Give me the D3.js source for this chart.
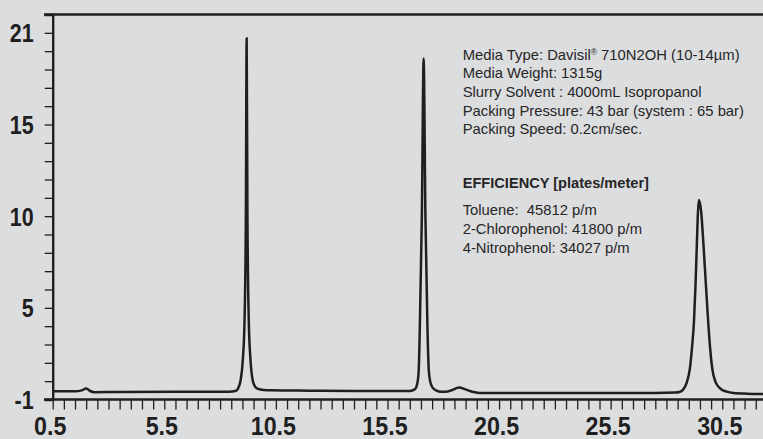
<!DOCTYPE html>
<html><head><meta charset="utf-8">
<script src="https://cdn.jsdelivr.net/npm/d3@7"></script>
<style>
html,body{margin:0;padding:0;background:#dcdddf;}
svg{display:block;}
</style></head>
<body>
<svg id="c" width="763" height="439"></svg>
<script>
// retention time (min) and detector signal
const times = [0.5,1.5,1.8,2.0,2.2,2.35,3.5,6.0,8.40,8.72,8.84,8.92,9.02,9.095,9.155,9.19,9.225,9.285,9.36,9.46,9.56,9.70,9.95,10.30,12.0,14.0,
  16.00,16.50,16.72,16.84,16.90,16.95,17.04,17.12,17.20,17.29,17.35,17.42,17.52,17.70,17.90,18.10,18.40,18.70,19.00,19.30,19.60,22.0,25.0,27.5,
  28.40,28.58,28.75,28.90,29.05,29.15,29.23,29.30,29.36,29.41,29.45,29.55,29.65,29.75,29.85,29.95,30.05,30.20,30.45,30.70,31.00,31.60,32.50];
const signal = [0.45,0.45,0.50,0.60,0.45,0.40,0.41,0.42,0.42,0.48,0.70,1.05,2.2,4.3,10.0,19.7,10.0,4.3,2.2,1.05,0.72,0.58,0.52,0.50,0.48,0.46,
  0.46,0.47,0.55,0.90,1.6,4.0,10.0,18.6,10.0,4.0,1.6,0.95,0.65,0.48,0.42,0.42,0.52,0.66,0.55,0.42,0.36,0.36,0.36,0.36,
  0.38,0.41,0.55,0.89,1.7,2.9,4.2,6.2,8.4,10.2,10.88,10.3,8.6,6.6,4.6,2.9,1.7,0.95,0.56,0.43,0.36,0.32,0.30];

const xTickValues = d3.range(0.5, 32.01, 0.5);
const xLabelValues = [0.5,5.5,10.5,15.5,20.5,25.5,30.5];
const yTickValues = d3.range(0, 22, 1);
const yLabelValues = [0,5,10,15,20];
const yLabelTexts = ["-1","5","10","15","21"];

const infoLines = ["Media Type: Davisil|® 710N2OH (10-14µm)","Media Weight: 1315g","Slurry Solvent : 4000mL Isopropanol","Packing Pressure: 43 bar (system : 65 bar)","Packing Speed: 0.2cm/sec."];
const effTitle = "EFFICIENCY [plates/meter]";
const effLines = ["Toluene:  45812 p/m","2-Chlorophenol: 41800 p/m","4-Nitrophenol: 34027 p/m"];

const svg = d3.select("#c");
const x = d3.scaleLinear().domain([0.5, 32.5]).range([52.7, 766.9]);
const y = d3.scaleLinear().domain([0, 21]).range([399.5, 14.5]);
const ink = "#1f1f1f";
const font = "'Liberation Sans', Arial, Helvetica, sans-serif";

// trace
const pts = times.map((t,i)=>[t, signal[i]]);
svg.append("path").datum(pts)
  .attr("fill","none").attr("stroke",ink).attr("stroke-width",2.5).attr("stroke-linejoin","round")
  .attr("d", d3.line().x(d=>x(d[0])).y(d=>y(d[1])).curve(d3.curveMonotoneX));

// top frame
svg.append("line").attr("x1",44).attr("x2",763).attr("y1",y(21)).attr("y2",y(21))
  .attr("stroke",ink).attr("stroke-width",2.6);

// y axis
const gy = svg.append("g").attr("transform",`translate(${x(0.5)},0)`)
  .call(d3.axisLeft(y).tickValues(yTickValues).tickSize(8).tickFormat(""));
gy.select(".domain").attr("stroke",ink).attr("stroke-width",2.4);
gy.selectAll(".tick line").attr("stroke",ink).attr("stroke-width",1.3);
gy.selectAll(".tick").filter(d=>yLabelValues.includes(d)).append("text")
  .attr("text-anchor","end").attr("transform","translate(-19,0) scale(0.86,1)")
  .attr("dy","0.36em").attr("fill",ink)
  .style("font-family",font).style("font-weight","bold").style("font-size","25px")
  .text(d=>yLabelTexts[yLabelValues.indexOf(d)]);

// x axis
const gx = svg.append("g").attr("transform",`translate(0,${y(0)})`)
  .call(d3.axisBottom(x).tickValues(xTickValues).tickSize(10).tickSizeOuter(0).tickFormat(""));
gx.select(".domain").attr("stroke",ink).attr("stroke-width",2.6).attr("d",`M44,0H763`);
gx.selectAll(".tick line").attr("stroke",ink).attr("stroke-width",1.3);
gx.selectAll(".tick").filter(d=>xLabelValues.some(v=>Math.abs(v-d)<1e-6)).append("text")
  .attr("text-anchor","middle").attr("transform","translate(-3,35) scale(0.93,1)")
  .attr("fill",ink)
  .style("font-family",font).style("font-weight","bold").style("font-size","25px")
  .text(d=>d.toFixed(1));

// annotation
const tx = 462.7;
const info = svg.append("g").style("font-family",font).style("font-size","14.8px").attr("fill","#262626");
infoLines.forEach((s,i)=>{
  const t = info.append("text").attr("x",tx).attr("y",59.5 + i*18.7);
  const parts = s.split("|");
  t.append("tspan").text(parts[0]);
  if(parts.length>1){
    t.append("tspan").attr("dy",-5).style("font-size","8.5px").text(parts[1].slice(0,1));
    t.append("tspan").attr("dy",5).text(parts[1].slice(1));
  }
});
info.append("text").attr("x",tx).attr("y",188.4).style("font-weight","bold").style("font-size","14.6px").text(effTitle);
effLines.forEach((s,i)=>{
  info.append("text").attr("x",tx).attr("y",215.4 + i*19).attr("xml:space","preserve").style("white-space","pre").text(s);
});
</script>
</body></html>
